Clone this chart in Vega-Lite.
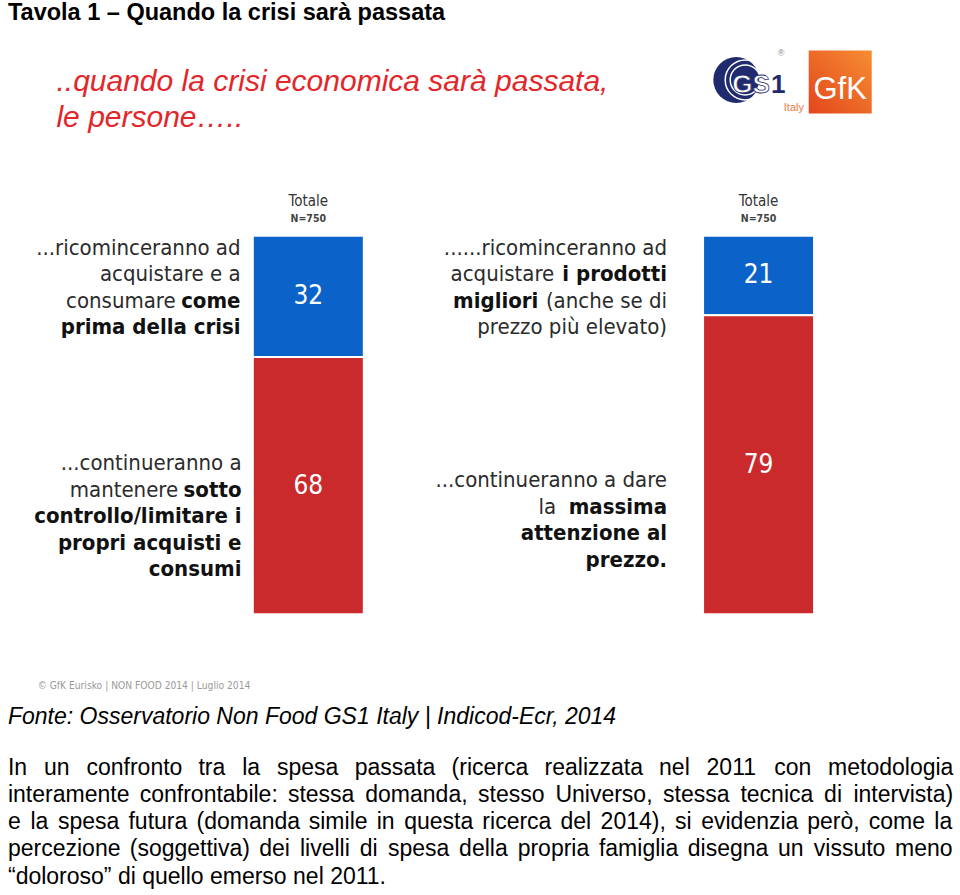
{
  "$schema": "https://vega.github.io/schema/vega-lite/v6.json",
  "width": 960,
  "height": 895,
  "padding": 0,
  "autosize": {"type": "fit", "contains": "padding"},
  "background": "white",
  "config": {
    "view": {"stroke": null},
    "text": {"font": "Liberation Sans, Arial", "fontSize": 23, "align": "left", "baseline": "alphabetic", "color": "#000000"}
  },
  "datasets": {
    "risposte": [
      {"panel": 1, "segment": "ricominceranno", "value": 32},
      {"panel": 1, "segment": "continueranno", "value": 68},
      {"panel": 2, "segment": "ricominceranno", "value": 21},
      {"panel": 2, "segment": "continueranno", "value": 79}
    ]
  },
  "data": {"values": [{}]},
  "layer": [
    {
      "data": {"name": "risposte"},
      "mark": {"type": "bar", "width": 111, "stroke": "white", "strokeWidth": 2},
      "encoding": {
        "x": {"field": "panel", "type": "quantitative", "scale": {"domain": [0.326374, 2.436264], "nice": false, "zero": false}, "axis": null},
        "y": {"field": "value", "type": "quantitative", "stack": "zero", "scale": {"domain": [-74.143, 162.005], "nice": false, "zero": false}, "axis": null},
        "color": {"field": "segment", "type": "nominal", "scale": {"domain": ["ricominceranno", "continueranno"], "range": ["#0b63c9", "#cb2a2c"]}, "legend": null},
        "order": {"field": "segment", "sort": "ascending"}
      }
    },
    {
      "data": {"name": "risposte"},
      "transform": [
        {"stack": "value", "groupby": ["panel"], "sort": [{"field": "segment", "order": "ascending"}], "as": ["v0", "v1"]},
        {"calculate": "(datum.v0 + datum.v1) / 2", "as": "mid"}
      ],
      "mark": {"type": "text", "font": "Liberation Sans Narrow, DejaVu Sans Condensed, Liberation Sans", "fontSize": 26, "color": "#ffffff", "align": "center", "baseline": "middle"},
      "encoding": {
        "x": {"field": "panel", "type": "quantitative"},
        "y": {"field": "mid", "type": "quantitative"},
        "text": {"field": "value", "type": "quantitative"}
      }
    },
    {
      "data": {"values": [{"panel": 1}, {"panel": 2}]},
      "mark": {"type": "text", "font": "DejaVu Sans Condensed, DejaVu Sans", "fontSize": 15, "align": "center", "color": "#333333"},
      "encoding": {"x": {"field": "panel", "type": "quantitative"}, "y": {"datum": 107.92}, "text": {"value": "Totale"}}
    },
    {
      "data": {"values": [{"panel": 1}, {"panel": 2}]},
      "mark": {"type": "text", "font": "DejaVu Sans Condensed, DejaVu Sans", "fontSize": 10.5, "fontWeight": "bold", "align": "center", "color": "#444444"},
      "encoding": {"x": {"field": "panel", "type": "quantitative"}, "y": {"datum": 103.69}, "text": {"value": "N=750"}}
    },
    {
      "mark": {"type": "text", "fontWeight": "bold", "fontSize": 23.5},
      "encoding": {"x": {"datum": 0.33297}, "y": {"datum": 156.992}, "text": {"value": "Tavola 1 – Quando la crisi sarà passata"}}
    },
    {
      "mark": {"type": "text", "fontStyle": "italic", "fontSize": 30, "lineHeight": 36, "color": "#e2262a"},
      "encoding": {"x": {"datum": 0.44066}, "y": {"datum": 138.258}, "text": {"value": ["..quando la crisi economica sarà passata,", "le persone….."]}}
    },
    {
      "mark": {"type": "point", "shape": "circle", "filled": true, "opacity": 1, "size": 2116, "color": "#1f2b6e"},
      "encoding": {"x": {"datum": 1.95055}, "y": {"datum": 141.161}}
    },
    {
      "mark": {"type": "point", "shape": "circle", "filled": false, "opacity": 1, "size": 1600, "color": "#ffffff", "strokeWidth": 1.5},
      "encoding": {"x": {"datum": 1.97033}, "y": {"datum": 141.161}}
    },
    {
      "mark": {"type": "point", "shape": "circle", "filled": false, "opacity": 1, "size": 900, "color": "#ffffff", "strokeWidth": 1.5},
      "encoding": {"x": {"datum": 1.97033}, "y": {"datum": 141.161}}
    },
    {
      "mark": {"type": "text", "fontWeight": "bold", "fontSize": 26, "color": "#ffffff", "stroke": "#1f2b6e", "strokeWidth": 0.8},
      "encoding": {"x": {"datum": 1.94176}, "y": {"datum": 137.731}, "text": {"value": "GS"}}
    },
    {
      "mark": {"type": "text", "fontWeight": "bold", "fontSize": 26, "color": "#1f2b6e"},
      "encoding": {"x": {"datum": 2.02747}, "y": {"datum": 137.731}, "text": {"value": "1"}}
    },
    {
      "mark": {"type": "text", "fontSize": 9, "color": "#8a8a8a"},
      "encoding": {"x": {"datum": 2.04286}, "y": {"datum": 147.493}, "text": {"value": "®"}}
    },
    {
      "mark": {"type": "text", "fontSize": 11, "color": "#e77b47"},
      "encoding": {"x": {"datum": 2.05604}, "y": {"datum": 132.981}, "text": {"value": "Italy"}}
    },
    {
      "mark": {"type": "point", "shape": "square", "filled": true, "opacity": 1, "size": 3969, "strokeWidth": 0,
        "fill": {"gradient": "linear", "x1": 0, "y1": 1, "x2": 1, "y2": 0, "stops": [{"offset": 0, "color": "#e3461c"}, {"offset": 1, "color": "#f68d32"}]}},
      "encoding": {"x": {"datum": 2.18132}, "y": {"datum": 140.633}}
    },
    {
      "mark": {"type": "text", "font": "Liberation Sans Narrow, Liberation Sans", "fontSize": 31, "align": "center", "color": "#ffffff"},
      "encoding": {"x": {"datum": 2.18132}, "y": {"datum": 136.15}, "text": {"value": "GfK"}}
    },
    {
      "mark": {"type": "text", "font": "DejaVu Sans Condensed, DejaVu Sans", "fontSize": 22, "align": "right", "color": "#2b2b2b", "lineHeight": 26.5},
      "encoding": {"x": {"datum": 0.84945}, "y": {"datum": 95.0}, "text": {"value": ["...ricominceranno ad", "acquistare e a"]}}
    },
    {
      "mark": {"type": "text", "font": "DejaVu Sans Condensed, DejaVu Sans", "fontSize": 22, "align": "right", "color": "#2b2b2b"},
      "encoding": {"x": {"datum": 0.70549}, "y": {"datum": 81.0}, "text": {"value": "consumare"}}
    },
    {
      "mark": {"type": "text", "font": "DejaVu Sans Condensed, DejaVu Sans", "fontSize": 22, "fontWeight": "bold", "align": "right", "color": "#111111", "lineHeight": 26.5},
      "encoding": {"x": {"datum": 0.84945}, "y": {"datum": 81.0}, "text": {"value": ["come", "prima della crisi"]}}
    },
    {
      "mark": {"type": "text", "font": "DejaVu Sans Condensed, DejaVu Sans", "fontSize": 22, "align": "right", "color": "#2b2b2b"},
      "encoding": {"x": {"datum": 0.85165}, "y": {"datum": 38.0}, "text": {"value": "...continueranno a"}}
    },
    {
      "mark": {"type": "text", "font": "DejaVu Sans Condensed, DejaVu Sans", "fontSize": 22, "align": "right", "color": "#2b2b2b"},
      "encoding": {"x": {"datum": 0.71099}, "y": {"datum": 31.0}, "text": {"value": "mantenere"}}
    },
    {
      "mark": {"type": "text", "font": "DejaVu Sans Condensed, DejaVu Sans", "fontSize": 22, "fontWeight": "bold", "align": "right", "color": "#111111", "lineHeight": 26.5},
      "encoding": {"x": {"datum": 0.85165}, "y": {"datum": 31.0}, "text": {"value": ["sotto", "controllo/limitare i", "propri acquisti e", "consumi"]}}
    },
    {
      "mark": {"type": "text", "font": "DejaVu Sans Condensed, DejaVu Sans", "fontSize": 22, "align": "right", "color": "#2b2b2b"},
      "encoding": {"x": {"datum": 1.7967}, "y": {"datum": 95.0}, "text": {"value": "......ricominceranno ad"}}
    },
    {
      "mark": {"type": "text", "font": "DejaVu Sans Condensed, DejaVu Sans", "fontSize": 22, "align": "right", "color": "#2b2b2b"},
      "encoding": {"x": {"datum": 1.54615}, "y": {"datum": 88.0}, "text": {"value": "acquistare"}}
    },
    {
      "mark": {"type": "text", "font": "DejaVu Sans Condensed, DejaVu Sans", "fontSize": 22, "fontWeight": "bold", "align": "right", "color": "#111111"},
      "encoding": {"x": {"datum": 1.7967}, "y": {"datum": 88.0}, "text": {"value": "i prodotti"}}
    },
    {
      "mark": {"type": "text", "font": "DejaVu Sans Condensed, DejaVu Sans", "fontSize": 22, "fontWeight": "bold", "align": "right", "color": "#111111"},
      "encoding": {"x": {"datum": 1.51099}, "y": {"datum": 81.0}, "text": {"value": "migliori"}}
    },
    {
      "mark": {"type": "text", "font": "DejaVu Sans Condensed, DejaVu Sans", "fontSize": 22, "align": "right", "color": "#2b2b2b", "lineHeight": 26.5},
      "encoding": {"x": {"datum": 1.7967}, "y": {"datum": 81.0}, "text": {"value": ["(anche se di", "prezzo più elevato)"]}}
    },
    {
      "mark": {"type": "text", "font": "DejaVu Sans Condensed, DejaVu Sans", "fontSize": 22, "align": "right", "color": "#2b2b2b"},
      "encoding": {"x": {"datum": 1.7967}, "y": {"datum": 33.5}, "text": {"value": "...continueranno a dare"}}
    },
    {
      "mark": {"type": "text", "font": "DejaVu Sans Condensed, DejaVu Sans", "fontSize": 22, "align": "right", "color": "#2b2b2b"},
      "encoding": {"x": {"datum": 1.55055}, "y": {"datum": 26.6}, "text": {"value": "la"}}
    },
    {
      "mark": {"type": "text", "font": "DejaVu Sans Condensed, DejaVu Sans", "fontSize": 22, "fontWeight": "bold", "align": "right", "color": "#111111", "lineHeight": 26.5},
      "encoding": {"x": {"datum": 1.7967}, "y": {"datum": 26.6}, "text": {"value": ["massima", "attenzione al", "prezzo."]}}
    },
    {
      "mark": {"type": "text", "font": "DejaVu Sans Condensed, DejaVu Sans", "fontSize": 10.2, "color": "#9a9a9a"},
      "encoding": {"x": {"datum": 0.3989}, "y": {"datum": -19.789}, "text": {"value": "© GfK Eurisko | NON FOOD 2014 | Luglio 2014"}}
    },
    {
      "mark": {"type": "text", "fontStyle": "italic"},
      "encoding": {"x": {"datum": 0.33297}, "y": {"datum": -29.024}, "text": {"value": "Fonte: Osservatorio Non Food GS1 Italy | Indicod-Ecr, 2014"}}
    },
    {"mark": "text", "encoding": {"x": {"datum": 0.33297}, "y": {"datum": -42.348}, "text": {"value": "In"}}},
    {"mark": "text", "encoding": {"x": {"datum": 0.41312}, "y": {"datum": -42.348}, "text": {"value": "un"}}},
    {"mark": "text", "encoding": {"x": {"datum": 0.50734}, "y": {"datum": -42.348}, "text": {"value": "confronto"}}},
    {"mark": "text", "encoding": {"x": {"datum": 0.75607}, "y": {"datum": -42.348}, "text": {"value": "tra"}}},
    {"mark": "text", "encoding": {"x": {"datum": 0.85305}, "y": {"datum": -42.348}, "text": {"value": "la"}}},
    {"mark": "text", "encoding": {"x": {"datum": 0.93037}, "y": {"datum": -42.348}, "text": {"value": "spesa"}}},
    {"mark": "text", "encoding": {"x": {"datum": 1.10323}, "y": {"datum": -42.348}, "text": {"value": "passata"}}},
    {"mark": "text", "encoding": {"x": {"datum": 1.31824}, "y": {"datum": -42.348}, "text": {"value": "(ricerca"}}},
    {"mark": "text", "encoding": {"x": {"datum": 1.52473}, "y": {"datum": -42.348}, "text": {"value": "realizzata"}}},
    {"mark": "text", "encoding": {"x": {"datum": 1.77903}, "y": {"datum": -42.348}, "text": {"value": "nel"}}},
    {"mark": "text", "encoding": {"x": {"datum": 1.88446}, "y": {"datum": -42.348}, "text": {"value": "2011"}}},
    {"mark": "text", "encoding": {"x": {"datum": 2.03488}, "y": {"datum": -42.348}, "text": {"value": "con"}}},
    {"mark": "text", "encoding": {"x": {"datum": 2.15437}, "y": {"datum": -42.348}, "text": {"value": "metodologia"}}},
    {"mark": "text", "encoding": {"x": {"datum": 0.33297}, "y": {"datum": -49.538}, "text": {"value": "interamente"}}},
    {"mark": "text", "encoding": {"x": {"datum": 0.62556}, "y": {"datum": -49.538}, "text": {"value": "confrontabile:"}}},
    {"mark": "text", "encoding": {"x": {"datum": 0.95473}, "y": {"datum": -49.538}, "text": {"value": "stessa"}}},
    {"mark": "text", "encoding": {"x": {"datum": 1.12651}, "y": {"datum": -49.538}, "text": {"value": "domanda,"}}},
    {"mark": "text", "encoding": {"x": {"datum": 1.37699}, "y": {"datum": -49.538}, "text": {"value": "stesso"}}},
    {"mark": "text", "encoding": {"x": {"datum": 1.54879}, "y": {"datum": -49.538}, "text": {"value": "Universo,"}}},
    {"mark": "text", "encoding": {"x": {"datum": 1.78796}, "y": {"datum": -49.538}, "text": {"value": "stessa"}}},
    {"mark": "text", "encoding": {"x": {"datum": 1.95974}, "y": {"datum": -49.538}, "text": {"value": "tecnica"}}},
    {"mark": "text", "encoding": {"x": {"datum": 2.14556}, "y": {"datum": -49.538}, "text": {"value": "di"}}},
    {"mark": "text", "encoding": {"x": {"datum": 2.21059}, "y": {"datum": -49.538}, "text": {"value": "intervista)"}}},
    {"mark": "text", "encoding": {"x": {"datum": 0.33297}, "y": {"datum": -56.728}, "text": {"value": "e"}}},
    {"mark": "text", "encoding": {"x": {"datum": 0.38286}, "y": {"datum": -56.728}, "text": {"value": "la"}}},
    {"mark": "text", "encoding": {"x": {"datum": 0.44396}, "y": {"datum": -56.728}, "text": {"value": "spesa"}}},
    {"mark": "text", "encoding": {"x": {"datum": 0.60059}, "y": {"datum": -56.728}, "text": {"value": "futura"}}},
    {"mark": "text", "encoding": {"x": {"datum": 0.75163}, "y": {"datum": -56.728}, "text": {"value": "(domanda"}}},
    {"mark": "text", "encoding": {"x": {"datum": 1.00099}, "y": {"datum": -56.728}, "text": {"value": "simile"}}},
    {"mark": "text", "encoding": {"x": {"datum": 1.15193}, "y": {"datum": -56.728}, "text": {"value": "in"}}},
    {"mark": "text", "encoding": {"x": {"datum": 1.21303}, "y": {"datum": -56.728}, "text": {"value": "questa"}}},
    {"mark": "text", "encoding": {"x": {"datum": 1.38657}, "y": {"datum": -56.728}, "text": {"value": "ricerca"}}},
    {"mark": "text", "encoding": {"x": {"datum": 1.56}, "y": {"datum": -56.728}, "text": {"value": "del"}}},
    {"mark": "text", "encoding": {"x": {"datum": 1.64921}, "y": {"datum": -56.728}, "text": {"value": "2014),"}}},
    {"mark": "text", "encoding": {"x": {"datum": 1.81431}, "y": {"datum": -56.728}, "text": {"value": "si"}}},
    {"mark": "text", "encoding": {"x": {"datum": 1.87259}, "y": {"datum": -56.728}, "text": {"value": "evidenzia"}}},
    {"mark": "text", "encoding": {"x": {"datum": 2.10789}, "y": {"datum": -56.728}, "text": {"value": "però,"}}},
    {"mark": "text", "encoding": {"x": {"datum": 2.24488}, "y": {"datum": -56.728}, "text": {"value": "come"}}},
    {"mark": "text", "encoding": {"x": {"datum": 2.39026}, "y": {"datum": -56.728}, "text": {"value": "la"}}},
    {"mark": "text", "encoding": {"x": {"datum": 0.33297}, "y": {"datum": -63.918}, "text": {"value": "percezione"}}},
    {"mark": "text", "encoding": {"x": {"datum": 0.60345}, "y": {"datum": -63.918}, "text": {"value": "(soggettiva)"}}},
    {"mark": "text", "encoding": {"x": {"datum": 0.89077}, "y": {"datum": -63.918}, "text": {"value": "dei"}}},
    {"mark": "text", "encoding": {"x": {"datum": 0.98145}, "y": {"datum": -63.918}, "text": {"value": "livelli"}}},
    {"mark": "text", "encoding": {"x": {"datum": 1.1142}, "y": {"datum": -63.918}, "text": {"value": "di"}}},
    {"mark": "text", "encoding": {"x": {"datum": 1.17677}, "y": {"datum": -63.918}, "text": {"value": "spesa"}}},
    {"mark": "text", "encoding": {"x": {"datum": 1.33488}, "y": {"datum": -63.918}, "text": {"value": "della"}}},
    {"mark": "text", "encoding": {"x": {"datum": 1.4649}, "y": {"datum": -63.918}, "text": {"value": "propria"}}},
    {"mark": "text", "encoding": {"x": {"datum": 1.64547}, "y": {"datum": -63.918}, "text": {"value": "famiglia"}}},
    {"mark": "text", "encoding": {"x": {"datum": 1.84288}, "y": {"datum": -63.918}, "text": {"value": "disegna"}}},
    {"mark": "text", "encoding": {"x": {"datum": 2.04317}, "y": {"datum": -63.918}, "text": {"value": "un"}}},
    {"mark": "text", "encoding": {"x": {"datum": 2.12264}, "y": {"datum": -63.918}, "text": {"value": "vissuto"}}},
    {"mark": "text", "encoding": {"x": {"datum": 2.30321}, "y": {"datum": -63.918}, "text": {"value": "meno"}}},
    {"mark": "text", "encoding": {"x": {"datum": 0.33297}, "y": {"datum": -71.108}, "text": {"value": "“doloroso” di quello emerso nel 2011."}}}
  ]
}
